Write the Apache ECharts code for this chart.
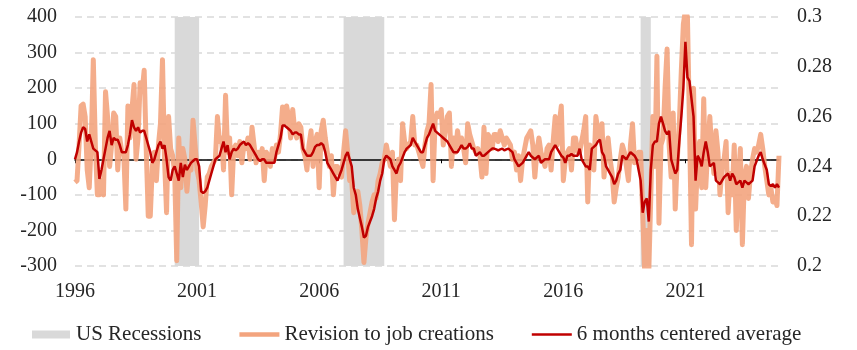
<!DOCTYPE html>
<html><head><meta charset="utf-8">
<script src="https://cdn.jsdelivr.net/npm/echarts@6/dist/echarts.min.js"></script>
<style>html,body{margin:0;padding:0;background:#fff}#c{width:857px;height:350px}</style>
</head><body><div id="c"></div>
<script>
const years = ['1996','1997','1998','1999','2000','2001','2002','2003','2004','2005','2006','2007','2008','2009','2010','2011','2012','2013','2014','2015','2016','2017','2018','2019','2020','2021','2022','2023','2024'];

const revision = [
-65,-60,40,150,155,120,-30,-80,50,280,40,-100,
-100,-60,-100,190,120,-20,40,130,120,-30,60,20,
10,-140,150,60,140,210,0,60,215,190,250,30,
-160,-160,-20,20,-60,40,100,280,0,-150,120,30,
10,-40,-285,60,-80,30,0,-90,-20,-30,110,40,
-30,-60,-120,-190,-130,-50,-40,-20,-10,0,120,50,
60,-30,180,20,60,-100,30,40,10,50,-10,40,
30,60,0,90,40,-10,20,0,30,-60,20,10,
-20,30,0,40,20,70,147,100,150,120,60,140,
80,60,100,90,30,10,-30,40,80,-20,50,70,
-80,80,110,60,20,-20,10,-100,-20,-20,-40,-50,
20,80,20,-60,-60,-150,-100,-90,-130,-200,-290,-220,
-180,-150,-120,-100,-110,-60,-40,-10,0,40,10,-20,
20,-170,-30,0,-60,100,50,30,40,50,120,40,
40,20,0,-20,40,80,100,210,-60,110,130,120,
140,40,80,120,130,-20,60,20,80,40,60,30,
-10,100,70,50,30,20,30,10,-50,90,-40,70,
60,30,70,70,50,80,60,40,60,50,40,0,
20,-30,10,-60,0,30,60,70,80,40,-50,20,
60,20,0,-20,30,40,-30,50,120,40,100,150,
-60,0,20,30,-30,60,60,20,20,50,80,120,
-120,40,10,-30,120,80,60,100,-50,20,60,0,
-40,-120,-80,-50,0,40,20,-20,-60,40,100,-10,
10,20,20,-150,-320,-200,-320,-100,120,-20,290,-180,
40,60,200,310,40,-50,130,-140,0,100,250,380,
420,400,100,-240,200,-140,0,50,-80,170,-80,30,
120,20,-40,80,20,-100,-20,0,50,-150,-40,-100,
40,-200,-60,30,-240,-50,-20,-110,-40,0,30,20,
40,70,30,-20,-60,-100,-80,-120,-110,-130,10
];

const avg6 = [
0,20,50,75,90,85,50,70,50,30,25,20,
-55,-30,0,30,60,80,40,60,55,55,40,20,
20,20,40,70,110,90,80,90,75,80,80,60,
40,20,-10,0,20,40,50,30,40,0,-50,-60,
-30,-20,-40,-60,-10,-50,-15,-30,-20,-10,-5,0,
0,-20,-90,-95,-90,-80,-60,-40,-20,0,5,10,
30,50,20,40,0,20,30,25,30,40,45,50,
40,45,40,30,20,10,0,-5,0,0,-10,-10,
-10,-10,-10,20,40,60,95,95,90,85,80,70,
75,75,70,70,30,20,10,10,10,20,35,40,
40,45,40,20,-10,-20,-30,-40,-50,-60,-45,-30,
-10,10,20,0,-20,-80,-100,-140,-165,-190,-220,-215,
-190,-175,-160,-140,-110,-90,-60,-40,0,10,5,0,
-20,-30,-40,-20,-10,5,20,30,35,40,60,50,
40,30,20,20,40,60,70,85,100,80,75,70,
65,60,55,50,40,30,20,20,20,30,40,30,
30,35,45,30,30,10,15,20,10,10,15,20,
25,30,30,28,25,28,30,25,28,30,25,20,
0,-10,-20,-15,-10,0,10,20,10,5,0,5,
10,-10,-5,0,0,0,20,30,40,30,20,10,
5,-10,10,10,15,10,10,10,30,0,-10,-20,
-20,-30,30,35,40,50,55,20,10,-20,-30,-40,
-50,-70,-60,-40,-30,10,5,0,10,20,15,10,
0,-30,-60,-150,-120,-110,-175,-30,40,50,50,100,
120,100,80,70,80,0,-20,-40,-30,50,120,200,
330,230,220,170,120,-60,10,0,-20,20,50,20,
-20,-15,-10,-60,-65,-70,-60,-50,-45,-40,-60,-40,
-50,-70,-65,-60,-80,-60,-65,-70,-65,-60,-20,-5,
10,20,0,-15,-30,-70,-75,-70,-80,-70,-80
];

const recessions = [['2000-02','2001-02'],['2007-01','2008-09'],['2019-03','2019-08']];
const seriesNames = ['US Recessions','Revision to job creations','6 months centered average'];

const months = [];
years.forEach(y => { for (let m = 1; m <= 12; m++) { if (months.length < revision.length) months.push(y + '-' + String(m).padStart(2,'0')); } });

const FONT = 'Liberation Serif';
const TXT = '#262626';

const chart = echarts.init(document.getElementById('c'), null, {renderer:'canvas'});
chart.setOption({
  animation: false,
  grid: {left: 75, right: 78, top: 17, bottom: 84, containLabel: false},
  legend: {
    left: 27, top: 319, itemGap: 38, itemWidth: 40, itemHeight: 8, symbolKeepAspect: true,
    textStyle: {fontFamily: FONT, fontSize: 21, color: TXT},
    data: [
      {name: seriesNames[0], icon: 'path://M0,0h38v8h-38z'},
      {name: seriesNames[1], icon: 'path://M0,0h41v4.5h-41z'},
      {name: seriesNames[2], icon: 'path://M0,0h40v2.5h-40z'}
    ]
  },
  xAxis: [
    {type: 'category', data: months, boundaryGap: false, position: 'bottom',
     axisLine: {show: false, onZero: false}, axisTick: {show: false}, splitLine: {show: false},
     axisLabel: {interval: 59, margin: 16, fontFamily: FONT, fontSize: 20, color: TXT,
       formatter: v => v.slice(0,4)}},
    {type: 'category', data: months, boundaryGap: false, position: 'bottom', z: 1.5,
     axisLine: {show: true, onZero: true, lineStyle: {color: '#000', width: 1.5}},
     axisTick: {show: true, interval: 59, length: 4, lineStyle: {color: '#000', width: 1}},
     axisLabel: {show: false}, splitLine: {show: false}}
  ],
  yAxis: [
    {type: 'value', min: -300, max: 400, interval: 100, position: 'left',
     axisLine: {show: false}, axisTick: {show: false},
     splitLine: {show: true, lineStyle: {color: '#D9D9D9', width: 1.5, type: [7,5]}},
     axisLabel: {margin: 18, fontFamily: FONT, fontSize: 20, color: TXT}},
    {type: 'value', min: 0.2, max: 0.3, interval: 0.02, position: 'right',
     axisLine: {show: false}, axisTick: {show: false}, splitLine: {show: false},
     axisLabel: {margin: 18, fontFamily: FONT, fontSize: 20, color: TXT}}
  ],
  series: [
    {name: seriesNames[0], type: 'line', data: [], symbol: 'none', z: 1,
     itemStyle: {color: '#D9D9D9'}, lineStyle: {width: 0},
     markArea: {silent: true, itemStyle: {color: '#D9D9D9', opacity: 1},
       data: recessions.map(r => [{xAxis: r[0]}, {xAxis: r[1]}])}},
    {name: seriesNames[1], type: 'line', data: revision, symbol: 'none', z: 2,
     itemStyle: {color: '#F3A47E'}, lineStyle: {width: 5, color: '#F3A47E', opacity: 0.9, join: 'round'}},
    {name: seriesNames[2], type: 'line', data: avg6, symbol: 'none', z: 3,
     itemStyle: {color: '#C00000'}, lineStyle: {width: 2.5, color: '#C00000'}}
  ]
});
</script></body></html>
